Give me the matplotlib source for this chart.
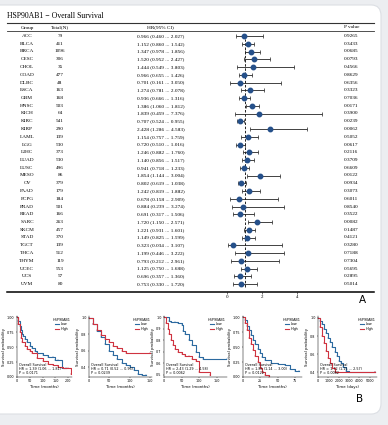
"""
HSP90AB1 pan-cancer overall survival: forest table (A) + KM curves (B)
"""
import matplotlib

matplotlib.use("Agg")
import matplotlib.pyplot as plt
from matplotlib.patches import FancyBboxPatch
import numpy as np

# ==========================================================
# Data
# ==========================================================
groups = ["ACC", "BLCA", "BRCA", "CESC", "CHOL", "COAD", "DLBC", "ESCA", "GBM",
          "HNSC", "KICH", "KIRC", "KIRP", "LAML", "LGG", "LIHC", "LUAD", "LUSC",
          "MESO", "OV", "PAAD", "PCPG", "PRAD", "READ", "SARC", "SKCM", "STAD",
          "TGCT", "THCA", "THYM", "UCEC", "UCS", "UVM"]
totals = [79, 411, 1096, 306, 35, 477, 48, 163, 168, 503, 64, 541, 290, 139, 530,
          373, 530, 496, 86, 379, 179, 184, 501, 166, 263, 457, 370, 139, 512, 119,
          553, 57, 80]
hr = [0.966, 1.152, 1.347, 1.520, 1.444, 0.966, 0.701, 1.274, 0.936, 1.386, 1.839,
      0.707, 2.428, 1.154, 0.720, 1.246, 1.140, 0.941, 1.854, 0.802, 1.242, 0.678,
      0.884, 0.691, 1.720, 1.221, 1.149, 0.323, 1.199, 0.793, 1.125, 0.696, 0.753]
hr_low = [0.460, 0.860, 0.978, 0.952, 0.549, 0.655, 0.161, 0.781, 0.666, 1.060,
          0.459, 0.524, 1.286, 0.757, 0.510, 0.882, 0.856, 0.718, 1.144, 0.619,
          0.819, 0.158, 0.239, 0.317, 1.150, 0.931, 0.825, 0.034, 0.446, 0.212,
          0.750, 0.357, 0.330]
hr_high = [2.027, 1.542, 1.856, 2.427, 3.803, 1.426, 3.050, 2.078, 1.316, 1.812,
           7.376, 0.955, 4.583, 1.759, 1.016, 1.760, 1.517, 1.233, 3.004, 1.038,
           1.882, 2.909, 3.274, 1.506, 2.571, 1.601, 1.599, 3.107, 3.222, 2.961,
           1.688, 1.360, 1.720]
p_values = [0.9265, 0.3433, 0.0685, 0.0793, 0.4566, 0.8629, 0.6356, 0.3323, 0.7036,
            0.0171, 0.3900, 0.0239, 0.0062, 0.5052, 0.0617, 0.2116, 0.3709, 0.6609,
            0.0122, 0.0934, 0.3073, 0.6011, 0.8540, 0.3522, 0.0082, 0.1487, 0.4121,
            0.3280, 0.7188, 0.7304, 0.5695, 0.2895, 0.5014]
forest_ticks = [0, 2, 4]

# KM panels (B): time / survival step points for Low and High expression
km_titles = ["HNSC", "KIRC", "KIRP", "MESO", "SARC"]
km_low_t = [
    [0, 5, 10, 15, 20, 25, 30, 40, 50, 60, 70, 80, 100, 120, 140, 150, 160, 175, 190],
    [0, 10, 20, 30, 40, 50, 60, 70, 80, 90, 100, 110, 120, 130, 140],
    [0, 15, 20, 30, 40, 50, 55, 60, 70, 80, 90, 100, 110, 180],
    [0, 3, 6, 9, 12, 15, 18, 21, 24, 28, 32, 40, 50, 60, 68, 75, 80],
    [0, 200, 400, 600, 800, 1000, 1200, 1400, 1600, 1800, 2000, 2200, 2400, 2700, 3000, 5500],
]
km_low_s = [
    [1, 0.93, 0.85, 0.78, 0.72, 0.68, 0.64, 0.58, 0.52, 0.48, 0.44, 0.40, 0.36, 0.34, 0.34, 0.28, 0.28, 0.15, 0.15],
    [1, 0.92, 0.84, 0.76, 0.68, 0.60, 0.55, 0.50, 0.45, 0.42, 0.40, 0.37, 0.32, 0.30, 0.30],
    [1, 0.97, 0.96, 0.96, 0.95, 0.93, 0.88, 0.85, 0.80, 0.76, 0.70, 0.65, 0.64, 0.64],
    [1, 0.95, 0.85, 0.78, 0.70, 0.62, 0.55, 0.47, 0.40, 0.34, 0.28, 0.24, 0.22, 0.20, 0.14, 0.10, 0.10],
    [1, 0.97, 0.93, 0.88, 0.83, 0.78, 0.73, 0.68, 0.63, 0.58, 0.53, 0.50, 0.46, 0.42, 0.40, 0.40],
]
km_high_t = [
    [0, 5, 10, 15, 20, 30, 40, 50, 60, 80, 100, 120, 140, 160, 180, 200, 210],
    [0, 10, 20, 30, 40, 50, 60, 70, 80, 90, 150],
    [0, 5, 10, 15, 20, 25, 30, 40, 50, 60, 70, 80, 90, 100, 130],
    [0, 3, 6, 9, 12, 15, 18, 21, 24, 28, 32, 38],
    [0, 200, 400, 600, 800, 1000, 1200, 1400, 1600, 5500],
]
km_high_s = [
    [1, 0.88, 0.75, 0.65, 0.58, 0.52, 0.47, 0.43, 0.40, 0.32, 0.27, 0.22, 0.20, 0.17, 0.15, 0.15, 0.05],
    [1, 0.92, 0.85, 0.79, 0.74, 0.70, 0.66, 0.63, 0.60, 0.57, 0.57],
    [1, 0.95, 0.90, 0.85, 0.80, 0.76, 0.72, 0.70, 0.68, 0.66, 0.66, 0.64, 0.62, 0.52, 0.50],
    [1, 0.90, 0.78, 0.65, 0.55, 0.45, 0.35, 0.25, 0.15, 0.08, 0.04, 0.0],
    [1, 0.90, 0.80, 0.72, 0.64, 0.56, 0.50, 0.45, 0.41, 0.41],
]
km_hr_text = ["HR = 1.39 (1.06 ... 1.81)", "HR = 0.71 (0.52 ... 0.96)",
              "HR = 2.43 (1.29 ... 4.58)", "HR = 1.85 (1.14 ... 3.00)",
              "HR = 1.72 (1.15 ... 2.57)"]
km_p_text = ["P = 0.0171", "P = 0.0239", "P = 0.0062", "P = 0.0122", "P = 0.0082"]
km_xlim = [(0, 215), (0, 155), (0, 180), (0, 85), (0, 5700)]
km_xticks = [[0, 50, 100, 150, 200], [0, 50, 100, 150], [0, 50, 100, 150],
             [0, 25, 50, 75], [0, 1000, 2000, 3000, 4000, 5000]]
km_ylim = [(0, 1.02), (0.28, 1.02), (0.48, 1.01), (0, 1.02), (0.35, 1.02)]
km_yticks = [[0, 0.25, 0.5, 0.75, 1.0], [0.4, 0.6, 0.8, 1.0],
             [0.5, 0.6, 0.7, 0.8, 0.9, 1.0], [0, 0.25, 0.5, 0.75, 1.0],
             [0.4, 0.6, 0.8, 1.0]]
km_xlabels = ["Time (months)"] * 4 + ["Time (days)"]

# ==========================================================
# Layout helpers (pixel based)
# ==========================================================
W, H = 388, 425
SERIF = ["Liberation Serif", "DejaVu Serif"]
BLUE_DOT = "#25508a"
KM_BLUE = "#2c6aa0"
KM_RED = "#cf3340"


def box(left, top, right, bottom):
    return [left / W, 1 - bottom / H, (right - left) / W, (bottom - top) / H]


fig = plt.figure(figsize=(W / 100, H / 100), dpi=100)
fig.patch.set_facecolor("#eceef1")

card = FancyBboxPatch(
    (-0.05, 1 - 414 / H), (381 / W) + 0.05, 409 / H,
    boxstyle="round,pad=0,rounding_size=0.025",
    transform=fig.transFigure, facecolor="white", edgecolor="#dcdfe4",
    linewidth=0.8, zorder=-5,
)
fig.patches.append(card)

# ==========================================================
# Forest table (A)
# ==========================================================
row0_px, row_h = 36, 7.75
top_px, bot_px = 23, 292
y_top = (top_px - row0_px) / row_h
y_bot = (bot_px - row0_px) / row_h
rows = np.arange(len(groups))

tab = fig.add_axes(box(0, top_px, W, bot_px))
tab.set_xlim(0, W)
tab.set_ylim(y_bot, y_top)
tab.axis("off")
tab.patch.set_alpha(0)

fs = 3.75
head_y = (27.5 - row0_px) / row_h
tab.text(27, head_y, "Group", ha="center", va="center", fontsize=fs, family=SERIF)
tab.text(60, head_y, "Total(N)", ha="center", va="center", fontsize=fs, family=SERIF)
tab.text(160, head_y, "HR(95% CI)", ha="center", va="center", fontsize=fs, family=SERIF)
tab.text(352, head_y, "P value", ha="center", va="center", fontsize=fs, family=SERIF)

for i in rows:
    tab.text(27, i, groups[i], ha="center", va="center", fontsize=fs, family=SERIF)
    tab.text(60, i, str(totals[i]), ha="center", va="center", fontsize=fs, family=SERIF)
    tab.text(161, i, f"{hr[i]:.3f} ({hr_low[i]:.3f} ... {hr_high[i]:.3f})",
             ha="center", va="center", fontsize=fs, family=SERIF)
    tab.text(351, i, f"{p_values[i]:.4f}", ha="center", va="center",
             fontsize=fs, family=SERIF)

tab.plot([7, 374], [y_top, y_top], color="#333333", lw=0.8, clip_on=False)
tab.plot([7, 374], [(31 - row0_px) / row_h] * 2, color="#333333", lw=0.6, clip_on=False)
tab.plot([7, 374], [y_bot, y_bot], color="black", lw=1.1, clip_on=False)

fig.text(7 / W, 1 - 16 / H, "HSP90AB1 \u2212 Overall Survival", fontsize=5.6,
         family=SERIF, va="center", ha="left")

# Forest plot
px_per_unit, zero_px = 17.4, 227.5
left_px, right_px = 200, 374
forest = fig.add_axes(box(left_px, top_px, right_px, bot_px))
forest.patch.set_alpha(0)
forest.set_xlim((left_px - zero_px) / px_per_unit, (right_px - zero_px) / px_per_unit)
forest.set_ylim(y_bot, y_top)

hr_arr = np.array(hr)
lo_arr = np.array(hr_low)
hi_arr = np.minimum(np.array(hr_high), 5.45)
forest.axvline(1, ymin=0.02, ymax=0.94, color="black", lw=0.6, ls=(0, (3, 2)))
forest.errorbar(
    hr_arr, rows, xerr=[hr_arr - lo_arr, hi_arr - hr_arr],
    fmt="o", color=BLUE_DOT, markersize=3.2, ecolor="#222222",
    elinewidth=0.6, capsize=1.2, capthick=0.5,
)
for s in ["top", "right", "left", "bottom"]:
    forest.spines[s].set_visible(False)
forest.set_yticks([])
forest.set_xticks(forest_ticks)
forest.tick_params(axis="x", length=1.5, width=0.4, pad=0.5, labelsize=3.6)
for lab in forest.get_xticklabels():
    lab.set_family(SERIF)

fig.text(362 / W, 1 - 300 / H, "A", fontsize=7.5, ha="center", va="center")

# ==========================================================
# Kaplan-Meier panels (B)
# ==========================================================
km_boxes = [(17, 316, 72, 377), (89, 316, 152, 377), (164, 316, 227, 377),
            (243, 316, 302, 377), (318, 316, 377, 377)]

for k in range(len(km_titles)):
    ax = fig.add_axes(box(*km_boxes[k]))
    ax.patch.set_alpha(0)
    ax.step(km_low_t[k], km_low_s[k], where="post", color=KM_BLUE, lw=0.8,
            marker="|", markersize=1.0, markeredgewidth=0.3, label="Low")
    ax.step(km_high_t[k], km_high_s[k], where="post", color=KM_RED, lw=0.8,
            marker="|", markersize=1.0, markeredgewidth=0.3, label="High")
    ax.set_xlim(*km_xlim[k])
    ax.set_ylim(*km_ylim[k])
    ax.set_xticks(km_xticks[k])
    ax.set_yticks(km_yticks[k])
    if k in (0, 3):
        ax.set_yticklabels([f"{v:.2f}" for v in km_yticks[k]])
    else:
        ax.set_yticklabels([f"{v:.1f}" for v in km_yticks[k]])
    ax.spines["top"].set_visible(False)
    ax.spines["right"].set_visible(False)
    ax.spines["left"].set_linewidth(0.35)
    ax.spines["bottom"].set_linewidth(0.35)
    ax.tick_params(length=1, width=0.3, pad=0.8, labelsize=2.4)
    ax.set_xlabel(km_xlabels[k], fontsize=2.8, labelpad=0.8)
    ax.set_ylabel("Survival probability", fontsize=2.8, labelpad=1)
    ax.text(0.03, 0.03, "Overall Survival\n" + km_hr_text[k] + "\n" + km_p_text[k],
            transform=ax.transAxes, fontsize=2.4, va="bottom", ha="left",
            linespacing=1.1)
    leg = ax.legend(title="HSP90AB1", fontsize=2.4, title_fontsize=2.4,
                    frameon=False, loc="upper right", handlelength=1.2,
                    borderaxespad=0.1, labelspacing=0.2, handletextpad=0.4)
    for line in leg.get_lines():
        line.set_marker("")

fig.text(360 / W, 1 - 399 / H, "B", fontsize=7.5, ha="center", va="center")

fig.savefig("out.png", dpi=100, facecolor=fig.get_facecolor())
